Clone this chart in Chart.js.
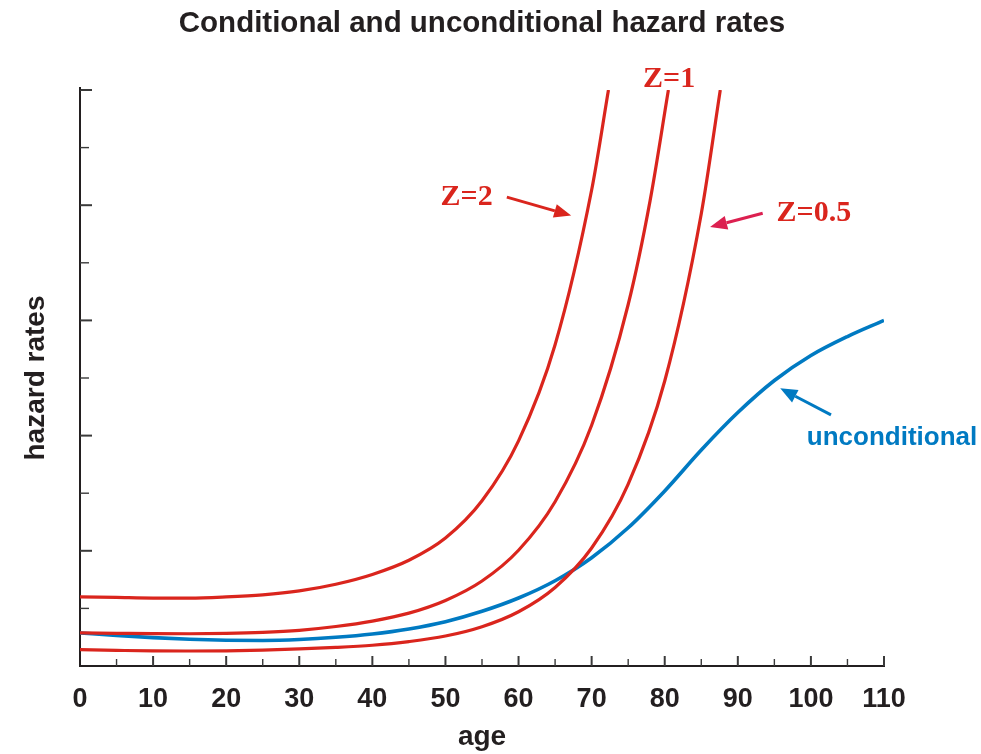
<!DOCTYPE html>
<html>
<head>
<meta charset="utf-8">
<title>Conditional and unconditional hazard rates</title>
<script src="https://cdn.jsdelivr.net/npm/chart.js@4.4.1/dist/chart.umd.min.js"></script>
<style>
  body { margin: 0; background: #fff; }
  #hazardChart { display: block; }
</style>
</head>
<body>
<canvas id="hazardChart" width="981" height="754"></canvas>
<script>
// values: age and hazard rate for each curve

const ageZ2 = [0, 5, 10, 15, 20, 25, 30, 35, 40, 45, 50, 55, 60, 65, 70, 72.3];
const hazardZ2 = [0.60, 0.595, 0.59, 0.59, 0.60, 0.618, 0.652, 0.71, 0.795, 0.918, 1.111, 1.434, 1.954, 2.789, 4.132, 5.0];

const ageZ1 = [0, 5, 10, 15, 20, 25, 30, 35, 40, 45, 50, 55, 60, 65, 70, 75, 78, 80.5];
const hazardZ1 = [0.287, 0.284, 0.281, 0.280, 0.283, 0.292, 0.31, 0.343, 0.39, 0.459, 0.569, 0.738, 1.005, 1.426, 2.09, 3.138, 4.04, 5.0];

const ageZ05 = [0, 5, 10, 15, 20, 25, 30, 35, 40, 45, 50, 55, 60, 65, 70, 75, 80, 85, 87.6];
const hazardZ05 = [0.142, 0.136, 0.131, 0.130, 0.132, 0.138, 0.148, 0.161, 0.18, 0.212, 0.26, 0.341, 0.471, 0.682, 1.024, 1.578, 2.474, 3.926, 5.0];

const ageUncond = [0, 5, 10, 15, 20, 25, 30, 35, 40, 45, 50, 55, 60, 65, 70, 75, 80, 85, 90, 95, 100, 105, 110];
const hazardUncond = [0.287, 0.265, 0.246, 0.232, 0.224, 0.222, 0.23, 0.249, 0.278, 0.322, 0.385, 0.475, 0.59, 0.74, 0.94, 1.2, 1.52, 1.875, 2.2, 2.478, 2.695, 2.86, 3.0];

const curveNames = ['Z=2', 'Z=1', 'Z=0.5', 'unconditional'];

const red = '#da251d';
const blue = '#007ac2';
const ink = '#231f20';
const sans = "'Liberation Sans', Arial, sans-serif";
const serif = "'Liberation Serif', 'Times New Roman', serif";

// labels and arrows, placed in data units (age, hazard)
const notes = [
  { text: 'Z=1', x: 80.6, y: 5.03, color: red, font: serif, size: 30 },
  { text: 'Z=2', x: 52.9, y: 4.0, color: red, font: serif, size: 30 },
  { text: 'Z=0.5', x: 100.4, y: 3.86, color: red, font: serif, size: 30 },
  { text: 'unconditional', x: 111.1, y: 1.92, color: blue, font: sans, size: 26 }
];
const arrows = [
  { from: [58.4, 4.07], to: [67.2, 3.91], color: red },
  { from: [93.4, 3.93], to: [86.2, 3.81], color: '#dc2050' },
  { from: [102.75, 2.18], to: [95.8, 2.41], color: blue }
];

function toPoints(ages, rates) {
  return ages.map((a, i) => ({ x: a, y: rates[i] }));
}

// inward ticks, major and minor
const axisTicks = {
  id: 'axisTicks',
  beforeDatasetsDraw(chart) {
    const c = chart.ctx;
    const xs = chart.scales.x, ys = chart.scales.y;
    const left = xs.getPixelForValue(0), bottom = ys.getPixelForValue(0);
    c.save();
    c.strokeStyle = '#3a3a3a';
    for (let v = 0.5; v <= 5; v += 0.5) {
      const major = Number.isInteger(v);
      const y = ys.getPixelForValue(v);
      c.lineWidth = major ? 2 : 1.4;
      c.beginPath();
      c.moveTo(left, y);
      c.lineTo(left + (major ? 12 : 9), y);
      c.stroke();
    }
    for (let a = 5; a <= 110; a += 5) {
      const major = a % 10 === 0;
      const x = xs.getPixelForValue(a);
      c.lineWidth = major ? 2 : 1.4;
      c.beginPath();
      c.moveTo(x, bottom);
      c.lineTo(x, bottom - (major ? 10 : 7));
      c.stroke();
    }
    // axis line runs a little past the top tick
    c.strokeStyle = ink;
    c.lineWidth = 2;
    c.beginPath();
    c.moveTo(left, ys.getPixelForValue(5));
    c.lineTo(left, ys.getPixelForValue(5) - 3);
    c.stroke();
    c.restore();
  }
};

function drawArrow(c, x1, y1, x2, y2, color) {
  const ang = Math.atan2(y2 - y1, x2 - x1);
  const len = 17, half = 7;
  const bx = x2 - len * Math.cos(ang), by = y2 - len * Math.sin(ang);
  c.strokeStyle = color;
  c.fillStyle = color;
  c.lineWidth = 3;
  c.beginPath();
  c.moveTo(x1, y1);
  c.lineTo(bx, by);
  c.stroke();
  c.beginPath();
  c.moveTo(x2, y2);
  c.lineTo(bx + half * Math.sin(ang), by - half * Math.cos(ang));
  c.lineTo(bx - half * Math.sin(ang), by + half * Math.cos(ang));
  c.closePath();
  c.fill();
}

const annotations = {
  id: 'annotations',
  afterDraw(chart) {
    const c = chart.ctx;
    const xs = chart.scales.x, ys = chart.scales.y;
    c.save();
    c.textAlign = 'center';
    c.textBaseline = 'alphabetic';
    notes.forEach(n => {
      c.fillStyle = n.color;
      c.font = 'bold ' + n.size + 'px ' + n.font;
      c.fillText(n.text, xs.getPixelForValue(n.x), ys.getPixelForValue(n.y));
    });
    arrows.forEach(a => {
      drawArrow(c,
        xs.getPixelForValue(a.from[0]), ys.getPixelForValue(a.from[1]),
        xs.getPixelForValue(a.to[0]), ys.getPixelForValue(a.to[1]), a.color);
    });
    c.restore();
  }
};

//line chart

var ctx = document.getElementById('hazardChart').getContext('2d');
var chart = new Chart(ctx, {
  type: 'line',
  data: {
    datasets: [
      { label: curveNames[0], data: toPoints(ageZ2, hazardZ2), borderColor: red, borderWidth: 3.2 },
      { label: curveNames[1], data: toPoints(ageZ1, hazardZ1), borderColor: red, borderWidth: 3.2 },
      { label: curveNames[2], data: toPoints(ageZ05, hazardZ05), borderColor: red, borderWidth: 3.2 },
      { label: curveNames[3], data: toPoints(ageUncond, hazardUncond), borderColor: blue, borderWidth: 3.6 }
    ]
  },
  options: {
    responsive: false,
    animation: false,
    parsing: false,
    elements: {
      point: { radius: 0 },
      line: { cubicInterpolationMode: 'monotone', fill: false }
    },
    layout: { padding: { left: 0, right: 97, top: 0, bottom: 0 } },
    plugins: {
      legend: { display: false },
      tooltip: { enabled: false },
      title: {
        display: true,
        text: 'Conditional and unconditional hazard rates',
        fullSize: false,
        color: ink,
        font: { family: sans, size: 29.5, weight: 'bold' },
        padding: { top: 6, bottom: 48.6 }
      }
    },
    scales: {
      x: {
        type: 'linear',
        min: 0,
        max: 110,
        grid: { display: false },
        border: { display: true, color: ink, width: 2 },
        ticks: { stepSize: 10, padding: 9, color: ink, font: { family: sans, size: 27, weight: 'bold' } },
        title: { display: true, text: 'age', color: ink, font: { family: sans, size: 28, weight: 'bold' }, padding: 0 },
        afterFit: s => { s.height = 88; }
      },
      y: {
        min: 0,
        max: 5,
        grid: { display: false },
        border: { display: true, color: ink, width: 2 },
        ticks: { display: false },
        title: { display: true, text: 'hazard rates', color: ink, font: { family: sans, size: 28, weight: 'bold' }, padding: { top: 19, bottom: 0 } },
        afterFit: s => { s.width = 80; }
      }
    }
  },
  plugins: [axisTicks, annotations]
});
</script>
</body>
</html>
